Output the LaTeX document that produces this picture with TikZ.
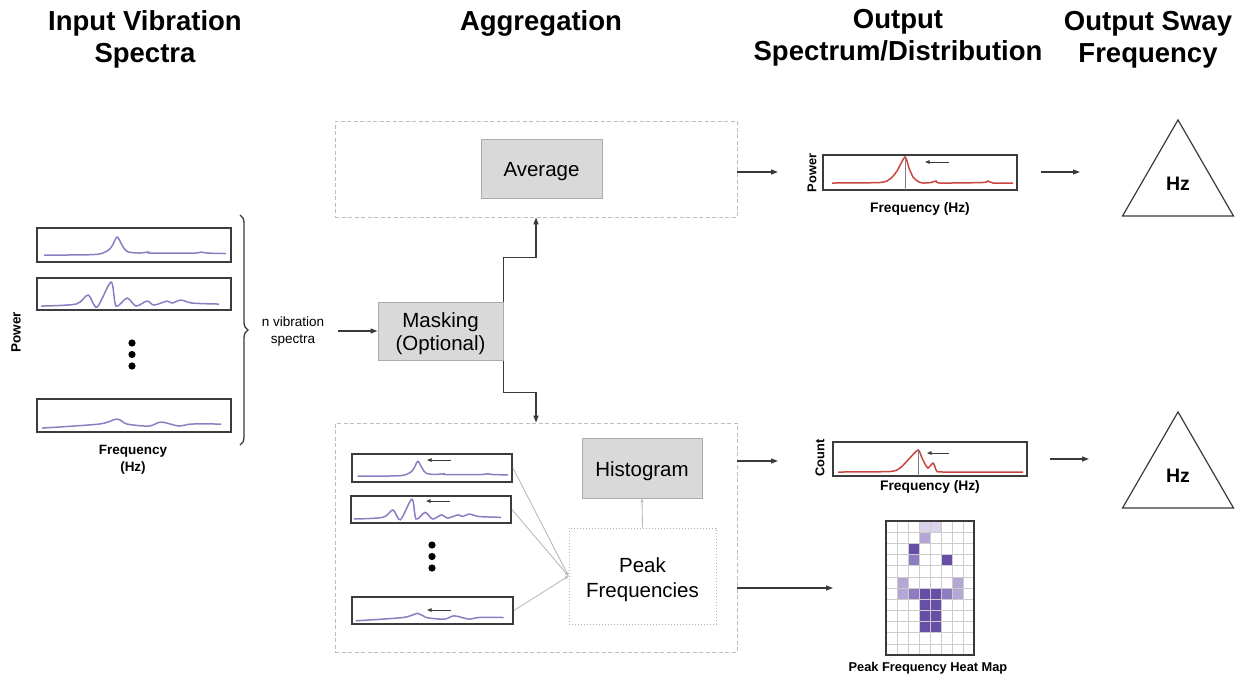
\documentclass[tikz,border=0pt]{standalone}
\usepackage{fontspec}
\setmainfont{Liberation Sans}
\usetikzlibrary{arrows.meta,shapes.geometric,decorations.pathreplacing,calc}
\definecolor{boxfill}{HTML}{D9D9D9}
\definecolor{boxborder}{HTML}{ABABAB}
\definecolor{dashgray}{HTML}{BDBDBD}
\definecolor{specborder}{HTML}{3C3C3C}
\definecolor{cpurple}{HTML}{8E7CC3}
\definecolor{cred}{HTML}{C8463F}
\definecolor{hmdark}{HTML}{674EA7}
\definecolor{hmmed}{HTML}{8E7CC3}
\definecolor{hmlight}{HTML}{B4A7D6}
\definecolor{hmvlight}{HTML}{D9D2E9}
\definecolor{linkgray}{HTML}{BBBBBB}
\definecolor{darkline}{HTML}{3A3A3A}
\newcommand\dn[2]{\raisebox{-#1pt}[\height][\depth]{#2}}
\newcommand\specA[1]{\draw[#1] plot[smooth,tension=0.5] coordinates {(8,28) (58,27.5) (71,24) (76,19) (81,10) (86,18) (91,24.5) (103,26) (112,25) (115,26) (158,26) (165,25) (171,26) (190,26.5)};}
\newcommand\specB[1]{\draw[#1] plot[smooth,tension=0.5] coordinates {(5,29) (40,27) (52,18) (61,30) (75,5) (80,29) (91,21) (100,29) (111,24) (118,28) (131,24) (136,26) (145,23) (156,26) (183,27)};}
\newcommand\specC[1]{\draw[#1] plot[smooth,tension=0.5] coordinates {(6,30) (63,26) (81,21) (91,26) (113,28) (125,24) (143,28) (155,26) (185,26)};}
\begin{document}
\begin{tikzpicture}[x=1pt,y=-1pt,
  title/.style={font=\bfseries\fontsize{27.5}{32}\selectfont, align=center, inner sep=0pt},
  lab/.style={font=\bfseries\fontsize{13.5}{17}\selectfont, align=center, inner sep=0pt},
  smalllab/.style={font=\bfseries\fontsize{12.8}{15}\selectfont, align=center, inner sep=0pt},
  arr/.style={draw=darkline, line width=1.3pt, -{Triangle[length=7pt,width=5pt]}},
  linkarr/.style={draw=linkgray, line width=0.9pt, -{Triangle[length=3.5pt,width=3pt]}},
  tinyarr/.style={draw=darkline, line width=0.8pt, -{Triangle[length=4.5pt,width=3.5pt]}},
  dbox/.style={draw=dashgray, line width=0.9pt, dash pattern=on 4pt off 2.5pt, inner sep=0pt},
  gbox/.style={draw=boxborder, fill=boxfill, line width=1pt, inner sep=0pt, align=center, font=\fontsize{20.5}{23}\selectfont},
  specbox/.style={draw=specborder, line width=1.9pt, inner sep=0pt},
  pcurve/.style={draw=cpurple, line width=1.5pt},
  rcurve/.style={draw=cred, line width=1.5pt},
  hmgrid/.style={draw=gray!40, line width=0.6pt},
  tri/.style={regular polygon, regular polygon sides=3, draw=darkline, line width=1.2pt, minimum size=128.2pt, inner sep=0pt, font=\bfseries\fontsize{19.5}{22}\selectfont}
]
\useasboundingbox (0,0) rectangle (1246,681);

% titles
\node[title] (t1) at (145,39) {Input Vibration\\Spectra};
\node[title, anchor=base] (t2) at (541,30) {Aggregation};
\node[title] (t3) at (898,38) {Output\\Spectrum/Distribution};
\node[title] (t4) at (1148,40) {Output Sway\\Frequency};

% input spectra
\node[specbox, minimum width=194pt, minimum height=34pt] (L1) at (134,245) {};
\node[specbox, minimum width=194pt, minimum height=32pt] (L2) at (134,294) {};
\node[specbox, minimum width=194pt, minimum height=33pt] (L3) at (134,415.5) {};
\begin{scope}[shift={(L1.north west)}] \specA{pcurve} \end{scope}
\begin{scope}[shift={(L2.north west)}] \specB{pcurve} \end{scope}
\begin{scope}[shift={(L3.north west)}] \specC{pcurve} \end{scope}
\fill (132,343) circle[radius=3.6pt];
\fill (132,354.5) circle[radius=3.6pt];
\fill (132,366) circle[radius=3.6pt];
\node[lab, rotate=90] (pl) at (16,332) {Power};
\node[lab] (fl) at (133,460) {Frequency\\(Hz)};
\draw[decorate, decoration={brace, amplitude=8pt}, draw=darkline, line width=1.3pt] (240,215) -- (240,445);
\node[font=\fontsize{13.5}{17}\selectfont, align=center, inner sep=0pt] (nv) at (293,331.5) {n vibration\\spectra};

% aggregation
\node[gbox, minimum width=125pt, minimum height=58pt] (mask) at (440.5,331) {\dn{3}{Masking}\\\dn{3}{(Optional)}};
\coordinate (nvout) at (338,331);
\draw[arr] (nvout) -- (mask.west);
\node[dbox, minimum width=402pt, minimum height=96pt] (topbox) at (536,169) {};
\node[gbox, minimum width=121pt, minimum height=59pt] (avg) at (541.5,168.5) {\dn{3}{Average}};
\node[dbox, minimum width=402pt, minimum height=229pt] (botbox) at (536,537.5) {};
\node[gbox, minimum width=120pt, minimum height=60pt] (hist) at (642,468) {\dn{3}{Histogram}};
\node[draw=gray!60, dotted, line width=1pt, minimum width=147pt, minimum height=96pt, inner sep=0pt, align=center, font=\fontsize{20.5}{25}\selectfont] (peak) at (642.5,576) {\dn{3.5}{Peak}\\\dn{3.5}{Frequencies}};
\draw[arr] (mask.north east) -- ++(0,-44) -| (topbox.south);
\draw[arr] (mask.south east) -- ++(0,32) -| (botbox.north);

% spectra inside bottom box
\node[specbox, minimum width=160pt, minimum height=28pt] (B1) at (432,468) {};
\node[specbox, minimum width=160pt, minimum height=27pt] (B2) at (431,509.5) {};
\node[specbox, minimum width=161pt, minimum height=27pt] (B3) at (432.5,610.5) {};
\begin{scope}[shift={(B1.north west)}, scale=0.825] \specA{pcurve} \end{scope}
\begin{scope}[shift={(B2.north west)}, scale=0.825] \specB{pcurve} \end{scope}
\begin{scope}[shift={(B3.north west)}, scale=0.825] \specC{pcurve} \end{scope}
\draw[tinyarr] ($(B1.north west)+(100,7)$) -- ++(-24,0);
\draw[tinyarr] ($(B2.north west)+(100,6)$) -- ++(-24,0);
\draw[tinyarr] ($(B3.north west)+(100,14)$) -- ++(-24,0);
\fill (432,545) circle[radius=3.6pt];
\fill (432,556.5) circle[radius=3.6pt];
\fill (432,568) circle[radius=3.6pt];
\draw[linkarr] (B1.east) -- (peak.west);
\draw[linkarr] (B2.east) -- (peak.west);
\draw[linkarr] (B3.east) -- (peak.west);
\draw[linkarr] (peak.north) -- (hist.south);

% output spectra
\node[specbox, line width=1.5pt, minimum width=194pt, minimum height=35pt] (O1) at (920,172.5) {};
\draw[rcurve] plot[smooth,tension=0.4] coordinates {(832,183) (880,182.5) (890,179) (897,171) (905,157) (909,168) (913,177) (918,181.5) (923,183) (931,182.5) (936,181) (940,183) (983,182.5) (988,181) (993,183) (1013,183)};
\draw[draw=gray, line width=0.7pt] (905,157) -- (905,190);
\draw[tinyarr] (949,162) -- (925,162);
\node[smalllab, rotate=90] (pw1) at (812,173) {Power};
\node[smalllab, font=\bfseries\fontsize{13.8}{16}\selectfont] (fq1) at (920,209) {Frequency (Hz)};

\node[specbox, line width=1.5pt, minimum width=194pt, minimum height=34pt] (O2) at (930,459) {};
\draw[rcurve] plot[smooth,tension=0.4] coordinates {(838,472) (890,471.5) (900,468) (908,460) (918,450) (922,458) (925,464) (928,468) (933,463) (935,467) (937,471.5) (945,472) (1023,472)};
\draw[draw=gray, line width=0.7pt] (918,450) -- (918,476);
\draw[tinyarr] (949,453) -- (927,453);
\node[smalllab, rotate=90] (cnt) at (820,458) {Count};
\node[smalllab, font=\bfseries\fontsize{13.8}{16}\selectfont] (fq2) at (930,487) {Frequency (Hz)};

\coordinate (o1in) at (778,172);
\coordinate (o2in) at (778,461);
\draw[arr] (topbox.east |- o1in) -- (o1in);
\draw[arr] (botbox.east |- o2in) -- (o2in);

% triangles
\node[tri] (tri1) at (1178,184) {Hz};
\node[tri] (tri2) at (1178,476) {Hz};
\coordinate (a1s) at (1041,172);
\coordinate (a1e) at (1080,172);
\coordinate (a2s) at (1050,459);
\coordinate (a2e) at (1089,459);
\draw[arr] (a1s) -- (a1e);
\draw[arr] (a2s) -- (a2e);

% heat map
\foreach \c/\r/\col in {3/0/hmvlight,4/0/hmvlight,3/1/hmlight,2/2/hmdark,2/3/hmmed,5/3/hmdark,1/5/hmlight,6/5/hmlight,1/6/hmlight,2/6/hmmed,3/6/hmdark,4/6/hmdark,5/6/hmmed,6/6/hmlight,3/7/hmdark,4/7/hmdark,3/8/hmdark,4/8/hmdark,3/9/hmdark,4/9/hmdark}
  \fill[\col] ({886+\c*11},{521+\r*134/12}) rectangle ({897+\c*11},{521+(\r+1)*134/12});
\foreach \i in {1,...,7} \draw[hmgrid] ({886+\i*11},521) -- ({886+\i*11},655);
\foreach \j in {1,...,11} \draw[hmgrid] (886,{521+\j*134/12}) -- (974,{521+\j*134/12});
\node[draw=darkline, line width=1.5pt, minimum width=88pt, minimum height=134pt, inner sep=0pt] (heat) at (930,588) {};
\node[smalllab] (hml) at (928,668) {Peak Frequency Heat Map};
\coordinate (hmin) at (833,588);
\draw[arr] (botbox.east |- hmin) -- (hmin);
\end{tikzpicture}
\end{document}
